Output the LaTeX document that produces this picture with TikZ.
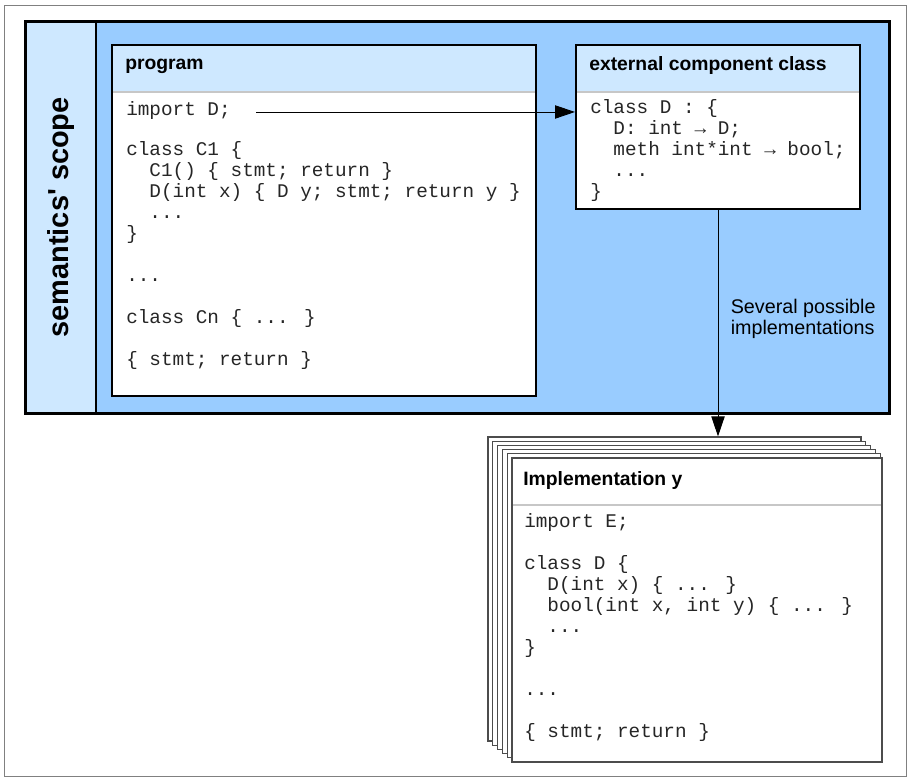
\documentclass[tikz,border=0pt]{standalone}
\usepackage{fontspec}
\setmainfont{Liberation Sans}
\newfontfamily\codefont{Liberation Mono}
\usetikzlibrary{arrows.meta,fit}
\definecolor{scopeblue}{RGB}{153,204,255}
\definecolor{headblue}{RGB}{206,232,255}
\newcommand{\ind}{\phantom{xx}}

\begin{document}
\begin{tikzpicture}
        [x=0.75pt,y=-0.75pt,
        box/.style={draw=black,line width=1.5pt,fill=white,inner sep=0pt},
        sheet/.style={draw=black!70,line width=0.9pt,fill=white,inner sep=0pt},
        head/.style={font=\bfseries\fontsize{14.5}{17}\selectfont,anchor=base west,inner sep=0pt},
        code/.style={font=\codefont\fontsize{14.5}{15.75}\selectfont,text=black!85,anchor=base west,align=left,inner sep=0pt},
        sep/.style={draw=black!22,line width=1.1pt},
        arrow/.style={-{Triangle[length=15pt,width=10pt]},line width=0.7pt}]
    \useasboundingbox (0,0) rectangle (909,778);
    \draw[black!50,line width=0.6pt] (4,5) rectangle (906,776);

    % semantics' scope
    \node[fill=scopeblue,inner sep=0pt,fit={(26,22) (889,413)}] (scope) {};
    \node[fill=headblue,draw=black,line width=1.1pt,inner sep=0pt,fit={(scope.north west) (96,413)}] (strip) {};
    \draw[line width=1.9pt] (scope.north west) rectangle (scope.south east);
    \node[font=\bfseries\fontsize{21.7}{24}\selectfont,rotate=90] (scopelbl) at (strip.center) {semantics\textquotesingle\ scope};

    % program (code nodes sit on the baseline of their last line)
    \node[box,fit={(112,45) (536,396)}] (prog) {};
    \fill[headblue] (113,46) rectangle (535,92);
    \draw[sep] (113,92) -- (535,92);
    \node[head] (proghead) at (125,69.5) {program};
    \node[code] (impD) at (126,115.5) {import D;};
    \node[code] (progcode) at (126,365) {class C1 \{\\
        \ind C1() \{ stmt; return \}\\
        \ind D(int x) \{ D y; stmt; return y \}\\
        \ind ...\\
        \}\\ ~\\
        ...\\ ~\\
        class Cn \{ ... \}\\ ~\\
        \{ stmt; return \}};

    % external component class
    \node[box,fit={(576,45) (860,209)}] (ext) {};
    \fill[headblue] (577,46) rectangle (859,92);
    \draw[sep] (577,92) -- (859,92);
    \node[head] (exthead) at (589,70) {external component class};
    \node[code] (extcode) at (590,197.5) {class D : \{\\
        \ind D: int → D;\\
        \ind meth int*int → bool;\\
        \ind ...\\
        \}};

    % implementations
    \foreach \i in {0,...,4}
        \node[sheet,fit={({488+4.8*\i},{437+4.2*\i}) ({861+4.8*\i},{741+4.2*\i})}] (sheet\i) {};
    \node[sheet,line width=1.1pt,fit={(512,458) (882,762)}] (impl) {};
    \draw[sep] (513,505) -- (881,505);
    \node[head] (implhead) at (523,485) {Implementation y};
    \node[code] (implcode) at (524,737.5) {import E;\\ ~\\
        class D \{\\
        \ind D(int x) \{ ... \}\\
        \ind bool(int x, int y) \{ ... \}\\
        \ind ...\\
        \}\\ ~\\
        ...\\ ~\\
        \{ stmt; return \}};

    % connectors
    \draw[arrow,shorten <=19pt] (impD.mid east) -- (ext.west |- impD.mid east);
    \draw[arrow] (ext.south) -- (ext.south |- sheet0.north);
    \node[font=\fontsize{14.8}{15.75}\selectfont,anchor=base west,align=left,inner sep=0pt] (several) at (730.5,334) {Several possible\\implementations};
\end{tikzpicture}
\end{document}
